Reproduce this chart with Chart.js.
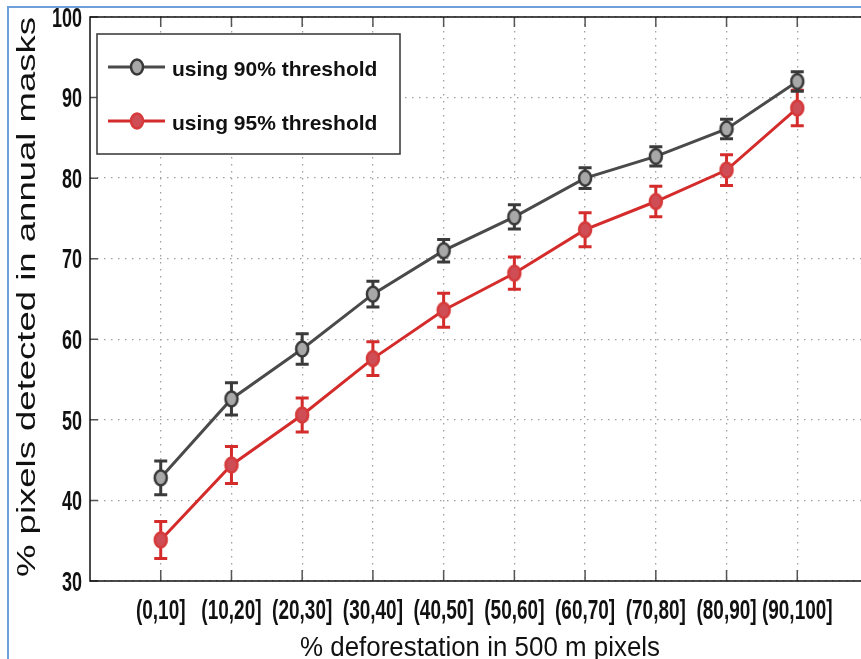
<!DOCTYPE html>
<html>
<head>
<meta charset="utf-8">
<script src="https://cdn.jsdelivr.net/npm/chart.js@4/dist/chart.umd.min.js"></script>
<style>
	body { margin: 0; overflow: hidden; background: #fff; }
	#frame { position: absolute; left: 7px; top: 6px; width: 900px; height: 700px; border-top: 2px solid #6f9fd8; border-left: 2px solid #6f9fd8; }
	#chart { position: absolute; left: 0; top: 0; }
</style>
</head>
<body>
<div id="frame"></div>
<canvas id="chart" width="880" height="659"></canvas>
<script>
const categories = ['(0,10]', '(10,20]', '(20,30]', '(30,40]', '(40,50]', '(50,60]', '(60,70]', '(70,80]', '(80,90]', '(90,100]'];
const yTicks = [30, 40, 50, 60, 70, 80, 90, 100];
const mean90 = [42.8, 52.6, 58.8, 65.6, 71.0, 75.2, 80.0, 82.7, 86.1, 92.0];
const err90 = [2.1, 2.0, 1.9, 1.6, 1.4, 1.5, 1.3, 1.2, 1.2, 1.2];
const mean95 = [35.1, 44.4, 50.6, 57.6, 63.6, 68.2, 73.6, 77.1, 81.0, 88.7];
const err95 = [2.3, 2.3, 2.1, 2.1, 2.1, 2.0, 2.1, 1.9, 1.9, 2.2];
const seriesNames = ['using 90% threshold', 'using 95% threshold'];
const xTitle = '% deforestation in 500 m pixels';
const yTitle = '% pixels detected in annual masks';

const FONT = '"Liberation Sans", Arial, Helvetica, sans-serif';

function makeMarker(fill, stroke) {
	let c = document.createElement('canvas');
	c.width = 18; c.height = 22;
	let g = c.getContext('2d');
	g.beginPath();
	g.ellipse(9, 11, 6, 7.5, 0, 0, 2 * Math.PI);
	g.fillStyle = fill;
	g.fill();
	g.lineWidth = 2.5;
	g.strokeStyle = stroke;
	g.stroke();
	return c;
}

const styles = [
	{ line: '#4a4a4a', err: '#3a3a3a', marker: makeMarker('#a8a8a8', '#383838') },
	{ line: '#d42b2b', err: '#d42b2b', marker: makeMarker('#cf4d55', '#d63a3a') },
];
const errs = [err90, err95];

// draw text stretched, centred vertically on cy (digits)
function stretchedText(ctx, text, x, cy, fs, weight, sx, sy, align) {
	ctx.save();
	ctx.translate(x, cy);
	ctx.scale(sx, sy);
	ctx.font = `${weight} ${fs}px ${FONT}`;
	ctx.textAlign = align;
	ctx.textBaseline = 'alphabetic';
	ctx.fillStyle = '#111';
	ctx.fillText(text, 0, 0.358 * fs);
	ctx.restore();
}

const errorBars = {
	id: 'errorBars',
	beforeDatasetDraw(chart, args) {
		let i = args.index;
		let ds = chart.data.datasets[i];
		let xs = chart.scales.x, ys = chart.scales.y;
		let ctx = chart.ctx;
		ctx.save();
		ctx.strokeStyle = styles[i].err;
		ctx.lineWidth = 3;
		ds.data.forEach((p, j) => {
			let x = xs.getPixelForValue(p.x);
			let top = ys.getPixelForValue(p.y + errs[i][j]);
			let bot = ys.getPixelForValue(p.y - errs[i][j]);
			ctx.beginPath();
			ctx.moveTo(x, top); ctx.lineTo(x, bot);
			ctx.moveTo(x - 6.5, top); ctx.lineTo(x + 6.5, top);
			ctx.moveTo(x - 6.5, bot); ctx.lineTo(x + 6.5, bot);
			ctx.stroke();
		});
		ctx.restore();
	},
};

const frame = {
	id: 'frame',
	afterDraw(chart) {
		let ctx = chart.ctx;
		let a = chart.chartArea;
		let xs = chart.scales.x, ys = chart.scales.y;
		ctx.save();
		// inward tick marks
		ctx.strokeStyle = '#555';
		ctx.lineWidth = 1.5;
		ctx.beginPath();
		xs.ticks.forEach(t => {
			let x = xs.getPixelForValue(t.value);
			ctx.moveTo(x, a.bottom); ctx.lineTo(x, a.bottom - 11);
			ctx.moveTo(x, a.top); ctx.lineTo(x, a.top + 10);
		});
		ys.ticks.forEach(t => {
			let y = ys.getPixelForValue(t.value);
			ctx.moveTo(a.left, y); ctx.lineTo(a.left + 8, y);
		});
		ctx.stroke();
		// axis box (left, top, bottom)
		ctx.strokeStyle = '#111';
		ctx.lineWidth = 1.5;
		ctx.beginPath();
		ctx.moveTo(a.right + 20, a.top); ctx.lineTo(a.left, a.top);
		ctx.lineTo(a.left, a.bottom); ctx.lineTo(a.right + 20, a.bottom);
		ctx.stroke();

		// tick labels
		xs.ticks.forEach(t => {
			let x = xs.getPixelForValue(t.value);
			stretchedText(ctx, categories[t.value - 1], x, 608.5, 19, 'bold', 1, 1.5, 'center');
		});
		ys.ticks.forEach(t => {
			let y = ys.getPixelForValue(t.value);
			stretchedText(ctx, String(t.value), 82, y, 18, 'bold', 1, 1.5, 'right');
		});

		// axis titles
		ctx.fillStyle = '#111';
		ctx.font = `26px ${FONT}`;
		ctx.textAlign = 'center';
		ctx.textBaseline = 'alphabetic';
		let w = ctx.measureText(xTitle).width;
		ctx.save();
		ctx.translate(480, 656);
		ctx.scale(360 / w, 1.06);
		ctx.fillText(xTitle, 0, 0);
		ctx.restore();

		w = ctx.measureText(yTitle).width;
		ctx.save();
		ctx.translate(35, 297);
		ctx.rotate(-Math.PI / 2);
		ctx.scale(560 / w, 1);
		ctx.fillText(yTitle, 0, 0);
		ctx.restore();

		// legend
		ctx.fillStyle = '#fff';
		ctx.fillRect(97, 34, 303, 120);
		ctx.strokeStyle = '#333';
		ctx.lineWidth = 1.5;
		ctx.strokeRect(97, 34, 303, 120);
		let rows = [67, 121];
		seriesNames.forEach((name, i) => {
			let y = rows[i];
			ctx.strokeStyle = styles[i].line;
			ctx.lineWidth = 3;
			ctx.beginPath();
			ctx.moveTo(108, y); ctx.lineTo(165, y);
			ctx.stroke();
			let m = styles[i].marker;
			ctx.drawImage(m, 137 - m.width / 2, y - m.height / 2);
			ctx.fillStyle = '#111';
			ctx.font = `bold 21px ${FONT}`;
			ctx.textAlign = 'left';
			ctx.textBaseline = 'alphabetic';
			ctx.fillText(name, 172, y + 9);
		});
		ctx.restore();
	},
};

let ctx = document.getElementById('chart').getContext('2d');
let data = {
	datasets: [mean90, mean95].map((vals, i) => ({
		label: seriesNames[i],
		data: vals.map((v, j) => ({ x: j + 1, y: v })),
		borderColor: styles[i].line,
		borderWidth: 3,
		pointStyle: styles[i].marker,
		pointRadius: 8,
		pointHoverRadius: 8,
		tension: 0,
	})),
};
let gridOpts = { color: '#a0a0a0', lineWidth: 1.3, drawTicks: false };
let borderOpts = { display: false, dash: [1.5, 5.5] };
let chart = new Chart(ctx, {
	type: 'line',
	data,
	options: {
		responsive: false,
		animation: false,
		layout: { padding: { top: 17, right: 12, left: 0, bottom: 0 } },
		plugins: { legend: { display: false }, tooltip: { enabled: false } },
		scales: {
			x: {
				type: 'linear', min: 0, max: 11,
				afterBuildTicks: s => { s.ticks = categories.map((c, i) => ({ value: i + 1 })); },
				afterFit: s => { s.height = 78; },
				ticks: { display: false },
				grid: gridOpts,
				border: borderOpts,
			},
			y: {
				min: 30, max: 100,
				afterBuildTicks: s => { s.ticks = yTicks.map(v => ({ value: v })); },
				afterFit: s => { s.width = 90; },
				ticks: { display: false },
				grid: gridOpts,
				border: borderOpts,
			},
		},
	},
	plugins: [errorBars, frame],
});
</script>
</body>
</html>
